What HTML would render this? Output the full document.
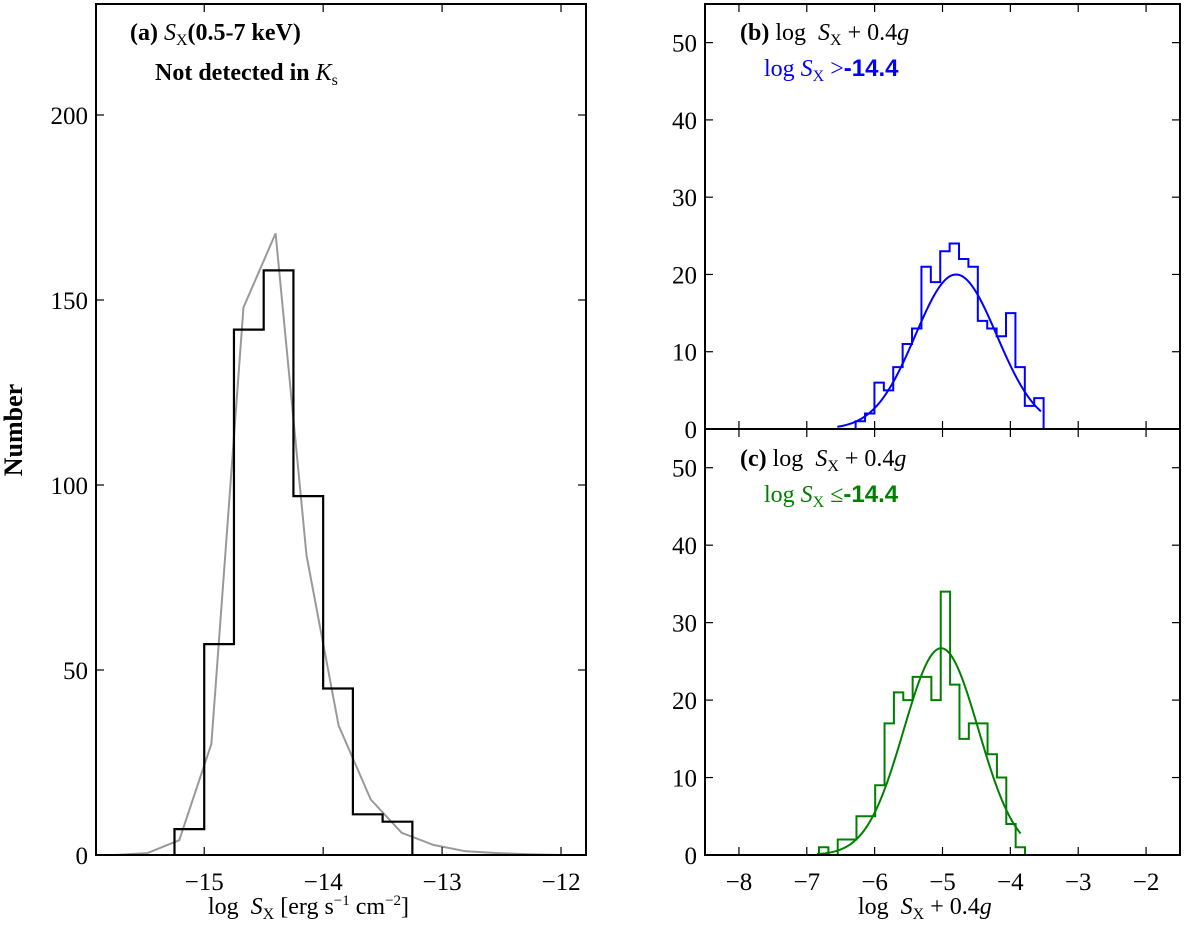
<!DOCTYPE html>
<html><head><meta charset="utf-8"><style>
html,body{margin:0;padding:0;background:#fff;}
svg{display:block;font-family:"Liberation Serif",serif;}
</style></head><body>
<svg id="fig" width="1200" height="936" viewBox="0 0 1200 936" xmlns="http://www.w3.org/2000/svg">
</svg>
<script>
// ---- Panel (a) data ----
const aBinEdges = [-15.25,-15.0,-14.75,-14.5,-14.25,-14.0,-13.75,-13.5,-13.25];
const aCounts = [7,57,142,158,97,45,11,9];
const aLineX = [-15.75,-15.48,-15.21,-14.94,-14.67,-14.40,-14.14,-13.87,-13.6,-13.34,-13.07,-12.8,-12.53,-12.27,-12.0];
const aLineY = [0,0.5,4,30,148,168,81,35,15,6,2.7,1,0.5,0.2,0];
const aXTicks = [-15,-14,-13,-12];
const aYTicks = [0,50,100,150,200];
// ---- Panel (b) data ----
const bStart = -6.28, bWidth = 0.1385;
const bCounts = [1,2,6,5,8,11,13,21,19,23,24,22,21,14,13,12,15,8,3,4];
const bFit = {amp:20, mu:-4.8, sigma:0.6, from:-6.55, to:-3.55};
// ---- Panel (c) data ----
const cStart = -6.82, cWidth = 0.138;
const cCounts = [1,0,2,2,5,5,9,17,21,20,23,23,20,34,22,15,17,17,13,10,4,1];
const cFit = {amp:26.7, mu:-5.02, sigma:0.55, from:-6.85, to:-3.85};
const bcXTicks = [-8,-7,-6,-5,-4,-3,-2];
const bcYTicks = [0,10,20,30,40,50];

const NS="http://www.w3.org/2000/svg";
const svg=document.getElementById('fig');
function el(tag,attrs,parent){const e=document.createElementNS(NS,tag);for(const k in attrs)e.setAttribute(k,attrs[k]);(parent||svg).appendChild(e);return e;}

function makeAxes(name,L,R,T,B,xmin,xmax,ymin,ymax){
  const g=el('g',{});
  
  
  const sx=v=>L+(v-xmin)/(xmax-xmin)*(R-L);
  const sy=v=>B-(v-ymin)/(ymax-ymin)*(B-T);
  return {g,sx,sy,L,R,T,B};
}
function frame(ax){
  const r=el('rect',{x:ax.L,y:ax.T,width:ax.R-ax.L,height:ax.B-ax.T,fill:'none',stroke:'#000','stroke-width':2},ax.g);
  
  
}
function xticks(ax,ticks,labels,top,bottom){
  ticks.forEach(t=>{
    const x=ax.sx(t);
    if(bottom!==false) el('line',{x1:x,x2:x,y1:ax.B,y2:ax.B-8,stroke:'#000','stroke-width':1.2},ax.g);
    if(top!==false) el('line',{x1:x,x2:x,y1:ax.T,y2:ax.T+8,stroke:'#000','stroke-width':1.2},ax.g);
    if(labels){
      const tx=el('text',{x:x,y:ax.B+35,'text-anchor':'middle','font-size':25},ax.g);
      tx.textContent='\u2212'+Math.abs(t);
      
      
    }
  });
}
function yticks(ax,ticks){
  ticks.forEach(t=>{
    const y=ax.sy(t);
    el('line',{x1:ax.L,x2:ax.L+8,y1:y,y2:y,stroke:'#000','stroke-width':1.2},ax.g);
    el('line',{x1:ax.R,x2:ax.R-8,y1:y,y2:y,stroke:'#000','stroke-width':1.2},ax.g);
    const tx=el('text',{x:ax.L-8,y:y+9,'text-anchor':'end','font-size':25},ax.g);
    tx.textContent=String(t);
    
    
  });
}
function stepPath(ax,edges,counts){
  let d='M'+ax.sx(edges[0])+','+ax.sy(0);
  counts.forEach((c,i)=>{d+=' L'+ax.sx(edges[i])+','+ax.sy(c)+' L'+ax.sx(edges[i+1])+','+ax.sy(c);});
  d+=' L'+ax.sx(edges[edges.length-1])+','+ax.sy(0);
  return d;
}
function gaussPath(ax,f){
  let d='';const n=120;
  for(let i=0;i<=n;i++){const x=f.from+(f.to-f.from)*i/n;const y=f.amp*Math.exp(-((x-f.mu)**2)/(2*f.sigma*f.sigma));d+=(i?' L':'M')+ax.sx(x).toFixed(2)+','+ax.sy(y).toFixed(2);}
  return d;
}
function text(parent,x,y,html,size,fill,name){
  const t=el('text',{x:x,y:y,'font-size':size,fill:fill||'#000'},parent);
  t.innerHTML=html;
  
  
  return t;
}

// ---- Panel a ----
const A=makeAxes('panel-a',96,586,4,855,-15.91,-11.79,0,230);
let p=el('polyline',{points:aLineX.map((x,i)=>A.sx(x)+','+A.sy(aLineY[i])).join(' '),fill:'none',stroke:'#999','stroke-width':2},A.g);


p=el('path',{d:stepPath(A,aBinEdges,aCounts),fill:'none',stroke:'#000','stroke-width':2.2},A.g);


frame(A);xticks(A,aXTicks,true);yticks(A,aYTicks);
text(A.g,130,40,'<tspan font-weight="bold">(a)</tspan> <tspan font-style="italic">S</tspan><tspan font-size="16" dy="5">X</tspan><tspan dy="-5" font-weight="bold">(0.5-7 keV)</tspan>',24,'#000','title-a');
text(A.g,155,80,'<tspan font-weight="bold">Not detected in </tspan><tspan font-style="italic">K</tspan><tspan font-size="16" dy="5">s</tspan>',24,'#000','subtitle-a');
text(A.g,208,914,'log&#160;&#160;<tspan font-style="italic">S</tspan><tspan font-size="16" dy="5">X</tspan><tspan dy="-5"> [erg s</tspan><tspan font-size="15" dy="-9">−1</tspan><tspan dy="9"> cm</tspan><tspan font-size="15" dy="-9">−2</tspan><tspan dy="9">]</tspan>',24,'#000','x-axis-title-a');
const yl=text(svg,0,0,'Number',26,'#000','y-axis-title');
yl.setAttribute('font-weight','bold');yl.setAttribute('text-anchor','middle');
yl.setAttribute('transform','translate(22,430) rotate(-90)');

// ---- Panel b ----
const Bx=makeAxes('panel-b',705,1180,4,429,-8.5,-1.5,0,55);
const bEdges=bCounts.map((c,i)=>bStart+i*bWidth).concat([bStart+bCounts.length*bWidth]);
p=el('path',{d:stepPath(Bx,bEdges,bCounts),fill:'none',stroke:'#0000ff','stroke-width':2},Bx.g);


p=el('path',{d:gaussPath(Bx,bFit),fill:'none',stroke:'#0000ff','stroke-width':2},Bx.g);


frame(Bx);xticks(Bx,bcXTicks,false);yticks(Bx,bcYTicks);
text(Bx.g,740,40,'<tspan font-weight="bold">(b)</tspan> log&#160;&#160;<tspan font-style="italic">S</tspan><tspan font-size="16" dy="5">X</tspan><tspan dy="-5"> + 0.4</tspan><tspan font-style="italic">g</tspan>',24,'#000','title-b');
text(Bx.g,764,76,'log <tspan font-style="italic">S</tspan><tspan font-size="16" dy="5">X</tspan><tspan dy="-5"> &gt;</tspan><tspan font-weight="bold" font-family="Liberation Sans, sans-serif">-14.4</tspan>',24,'#0000ff','condition-b');

// ---- Panel c ----
const Cx=makeAxes('panel-c',705,1180,429,855,-8.5,-1.5,0,55);
const cEdges=cCounts.map((c,i)=>cStart+i*cWidth).concat([cStart+cCounts.length*cWidth]);
p=el('path',{d:stepPath(Cx,cEdges,cCounts),fill:'none',stroke:'#008000','stroke-width':2},Cx.g);


p=el('path',{d:gaussPath(Cx,cFit),fill:'none',stroke:'#008000','stroke-width':2},Cx.g);


frame(Cx);xticks(Cx,bcXTicks,true);yticks(Cx,bcYTicks);
text(Cx.g,740,466,'<tspan font-weight="bold">(c)</tspan> log&#160;&#160;<tspan font-style="italic">S</tspan><tspan font-size="16" dy="5">X</tspan><tspan dy="-5"> + 0.4</tspan><tspan font-style="italic">g</tspan>',24,'#000','title-c');
text(Cx.g,764,502,'log <tspan font-style="italic">S</tspan><tspan font-size="16" dy="5">X</tspan><tspan dy="-5"> ≤</tspan><tspan font-weight="bold" font-family="Liberation Sans, sans-serif">-14.4</tspan>',24,'#008000','condition-c');
text(Cx.g,858,914,'log&#160;&#160;<tspan font-style="italic">S</tspan><tspan font-size="16" dy="5">X</tspan><tspan dy="-5"> + 0.4</tspan><tspan font-style="italic">g</tspan>',24,'#000','x-axis-title-bc');
</script>
</body></html>
